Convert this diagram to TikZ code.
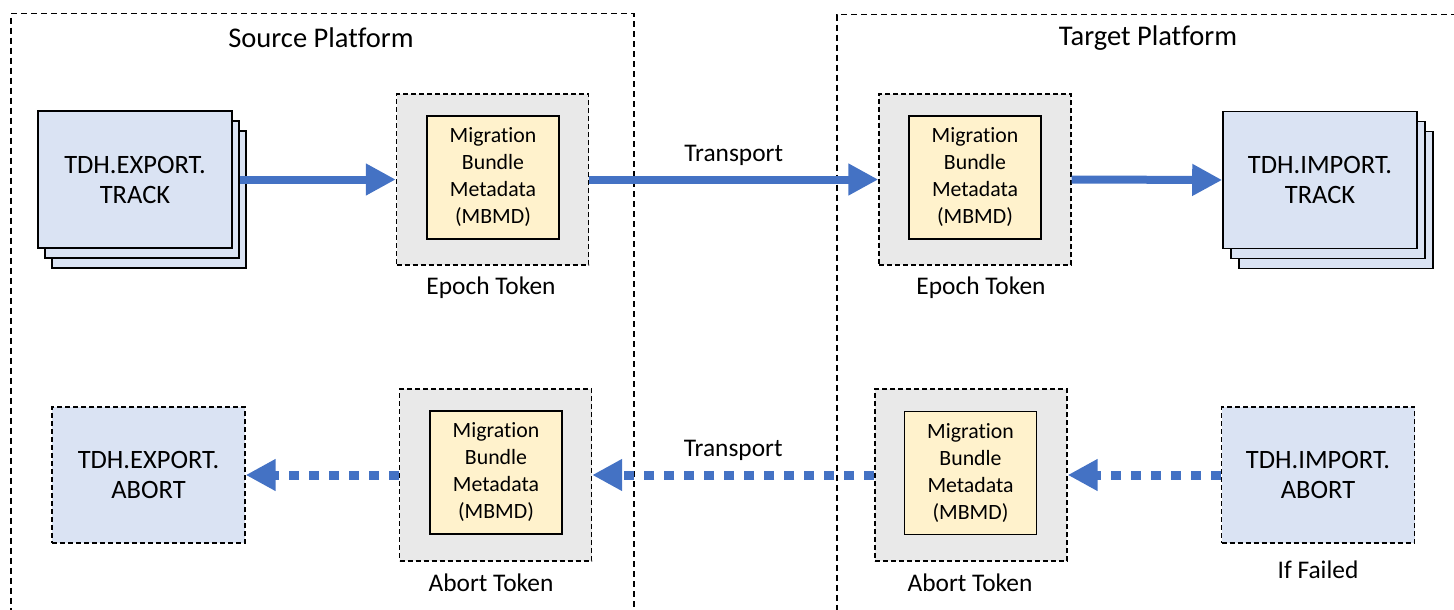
\documentclass[tikz,border=0pt]{standalone}
\usepackage{fontspec}
\setmainfont{Carlito}[Ligatures=NoCommon]
\usetikzlibrary{arrows.meta}
\definecolor{flowblue}{HTML}{4472C4}
\definecolor{trackblue}{HTML}{DAE3F3}
\definecolor{tokengray}{HTML}{E9E9E9}
\definecolor{mbmdyellow}{HTML}{FFF2CC}
\begin{document}
\begin{tikzpicture}[x=1pt, y=-1pt,
	platform/.style={draw, line width=1.5pt, dash pattern=on 6pt off 4pt, anchor=north west},
	track/.style={draw, line width=1.6pt, fill=trackblue, minimum width=194pt, minimum height=137pt, align=center, font=\fontsize{26.5}{30}\selectfont},
	abortbox/.style={draw, line width=1.4pt, dash pattern=on 5pt off 3pt, fill=trackblue, minimum width=193pt, minimum height=136pt, align=center, font=\fontsize{26.5}{30}\selectfont},
	token/.style={draw, line width=1.4pt, dash pattern=on 5pt off 3pt, fill=tokengray, minimum width=192pt, minimum height=171pt},
	mbmd/.style={draw, line width=1.6pt, fill=mbmdyellow, minimum width=132pt, minimum height=123pt, align=center, font=\fontsize{21.8}{27}\selectfont},
	caption/.style={font=\fontsize{25.4}{28}\selectfont},
	flow/.style={draw=flowblue, line width=8pt, -{Triangle[length=30pt, width=30pt]}},
	dotflow/.style={flow, line width=9pt, dash pattern=on 10pt off 10pt}]
	\useasboundingbox (0,0) rectangle (1454,610);

	% Platforms
	\node[platform, minimum width=623pt, minimum height=640pt] (source) at (10,13) {};
	\node[caption, font=\fontsize{28.5}{30}\selectfont] (sourcetitle) at (321,38) {Source Platform};
	\node[platform, minimum width=700pt, minimum height=640pt] (target) at (836,14) {};
	\node[caption, font=\fontsize{28.5}{30}\selectfont] (targettitle) at (1148,38) {Target Platform};

	% Track stacks
	\foreach \i in {2,1} {
		\node[track] (exptrack\i) at (135+7*\i,179.5+10*\i) {};
		\node[track] (imptrack\i) at (1320+8*\i,180+10*\i) {};
	}
	\node[track] (exptrack) at (135,179.5) {TDH.EXPORT.\\TRACK};
	\node[track] (imptrack) at (1320,180) {TDH.IMPORT.\\TRACK};

	% Epoch tokens
	\node[token] (epochsrc) at (492.5,179.5) {};
	\node[mbmd] (mbmdepochsrc) at (493,177.5) {Migration\\Bundle\\Metadata\\(MBMD)};
	\node[caption] (epochsrclabel) at (491,288) {Epoch Token};
	\node[token] (epochtgt) at (975,179.5) {};
	\node[mbmd] (mbmdepochtgt) at (975,177.5) {Migration\\Bundle\\Metadata\\(MBMD)};
	\node[caption] (epochtgtlabel) at (981,288) {Epoch Token};

	% Abort tokens
	\node[token, minimum height=172pt] (abortsrc) at (495.5,475) {};
	\node[mbmd] (mbmdabortsrc) at (496,472.5) {Migration\\Bundle\\Metadata\\(MBMD)};
	\node[caption] (abortsrclabel) at (491,583) {Abort Token};
	\node[token, minimum height=172pt] (aborttgt) at (971,475) {};
	\node[mbmd] (mbmdaborttgt) at (970.5,473) {Migration\\Bundle\\Metadata\\(MBMD)};
	\node[caption] (aborttgtlabel) at (970,583) {Abort Token};

	% Abort calls
	\node[abortbox] (expabort) at (148.5,475) {TDH.EXPORT.\\ABORT};
	\node[abortbox] (impabort) at (1318,475) {TDH.IMPORT.\\ABORT};
	\node[caption] (failedlabel) at (1318,570) {If Failed};

	% Connections
	\draw[flow] (exptrack1.east |- exptrack.east) -- (epochsrc.west);
	\draw[flow] (epochsrc.east) -- node[caption, above=7pt, text=black] (transporttop) {Transport} (epochtgt.west);
	\draw[flow] (epochtgt.east) -- (imptrack.west);
	\draw[dotflow] (impabort.west) -- (aborttgt.east);
	\draw[dotflow] (aborttgt.west) -- node[caption, above=7pt, text=black] (transportbottom) {Transport} (abortsrc.east);
	\draw[dotflow] (abortsrc.west) -- (expabort.east);
\end{tikzpicture}
\end{document}
